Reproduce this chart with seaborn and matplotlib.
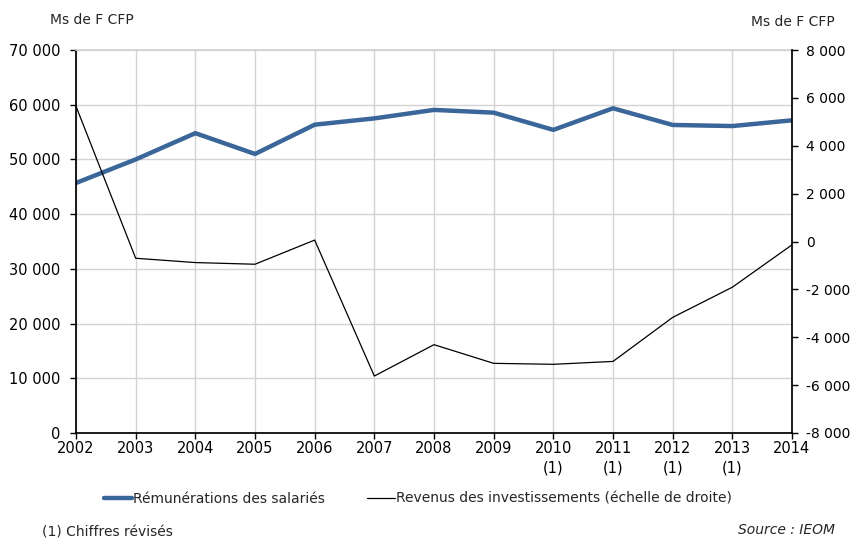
import matplotlib
matplotlib.use("Agg")
import matplotlib.pyplot as plt
import seaborn as sns
import pandas as pd
from matplotlib.ticker import FuncFormatter
from matplotlib.lines import Line2D

years = [2002, 2003, 2004, 2005, 2006, 2007, 2008, 2009, 2010, 2011, 2012, 2013, 2014]
year_labels = ["2002", "2003", "2004", "2005", "2006", "2007", "2008", "2009",
               "2010\n(1)", "2011\n(1)", "2012\n(1)", "2013\n(1)", "2014"]
remunerations = [45700, 50000, 54800, 51000, 56350, 57500, 59050, 58550, 55400, 59350, 56300, 56100, 57150]
revenus = [5650, -700, -880, -950, 60, -5620, -4310, -5090, -5130, -5010, -3170, -1910, -140]

sns.set_theme(style="white")
plt.rcParams['font.family'] = ['DejaVu Sans']

df = pd.DataFrame({"annee": years, "rem": remunerations, "rev": revenus})

fig = plt.figure(figsize=(8.55, 5.4), dpi=100)
ax = fig.add_axes([76/855, 1-433/540, (792-76)/855, (433-50)/540])
ax2 = ax.twinx()

blue = "#3a6699"
sns.lineplot(data=df, x="annee", y="rem", ax=ax, color=blue, linewidth=3.2, legend=False)
sns.lineplot(data=df, x="annee", y="rev", ax=ax2, color="black", linewidth=0.9, legend=False)

ax.set_xlim(2002, 2014)
ax.set_ylim(0, 70000)
ax2.set_ylim(-8000, 8000)
ax.set_yticks(range(0, 70001, 10000))
ax2.set_yticks(range(-8000, 8001, 2000))
ax.set_xticks(years)
ax.set_xticklabels(year_labels)

fmt = FuncFormatter(lambda v, p: f"{int(v):,}".replace(",", " "))
ax.yaxis.set_major_formatter(fmt)
ax2.yaxis.set_major_formatter(fmt)

ax.grid(True, color="#d3d3d3", linewidth=1.0)
ax.set_axisbelow(True)
ax2.grid(False)

for a in (ax, ax2):
    a.set_xlabel("")
    a.set_ylabel("")
    for s in a.spines.values():
        s.set_visible(False)

ax.spines["left"].set_visible(True)
ax.spines["left"].set_color("black")
ax.spines["bottom"].set_visible(True)
ax.spines["bottom"].set_color("black")
ax2.spines["right"].set_visible(True)
ax2.spines["right"].set_color("black")
ax.spines["top"].set_visible(True)
ax.spines["top"].set_color("#d3d3d3")

ax.tick_params(axis="y", which="both", left=True, length=4, width=1, color="black",
               labelsize=10.5, pad=7, labelcolor="black")
ax.tick_params(axis="x", bottom=True, length=4, width=1, color="black",
               labelsize=10.5, pad=2, labelcolor="black")
ax2.tick_params(axis="y", right=True, length=4, width=1, color="black",
                labelsize=10, pad=6, labelcolor="black")
for lbl in ax.get_xticklabels():
    lbl.set_horizontalalignment("center")
    lbl.set_linespacing(1.35)

fig.text(50/855, 1-20/540, "Ms de F CFP", fontsize=10, ha="left", va="center")
fig.text(835/855, 1-22/540, "Ms de F CFP", fontsize=10, ha="right", va="center")

handles = [Line2D([0], [0], color=blue, linewidth=3.2),
           Line2D([0], [0], color="black", linewidth=0.9)]
fig.legend(handles, ["Rémunérations des salariés", "Revenus des investissements (échelle de droite)"],
           loc="center", bbox_to_anchor=(418/855, 1-499/540), ncol=2, frameon=False,
           fontsize=10, handlelength=2.0, handletextpad=0.1, columnspacing=3.0)

fig.text(42/855, 1-533/540, "(1) Chiffres révisés", fontsize=10, ha="left", va="center")
fig.text(835/855, 1-530/540, "Source : IEOM", fontsize=10, ha="right", va="center", style="italic")

fig.savefig("out.png", dpi=100)
